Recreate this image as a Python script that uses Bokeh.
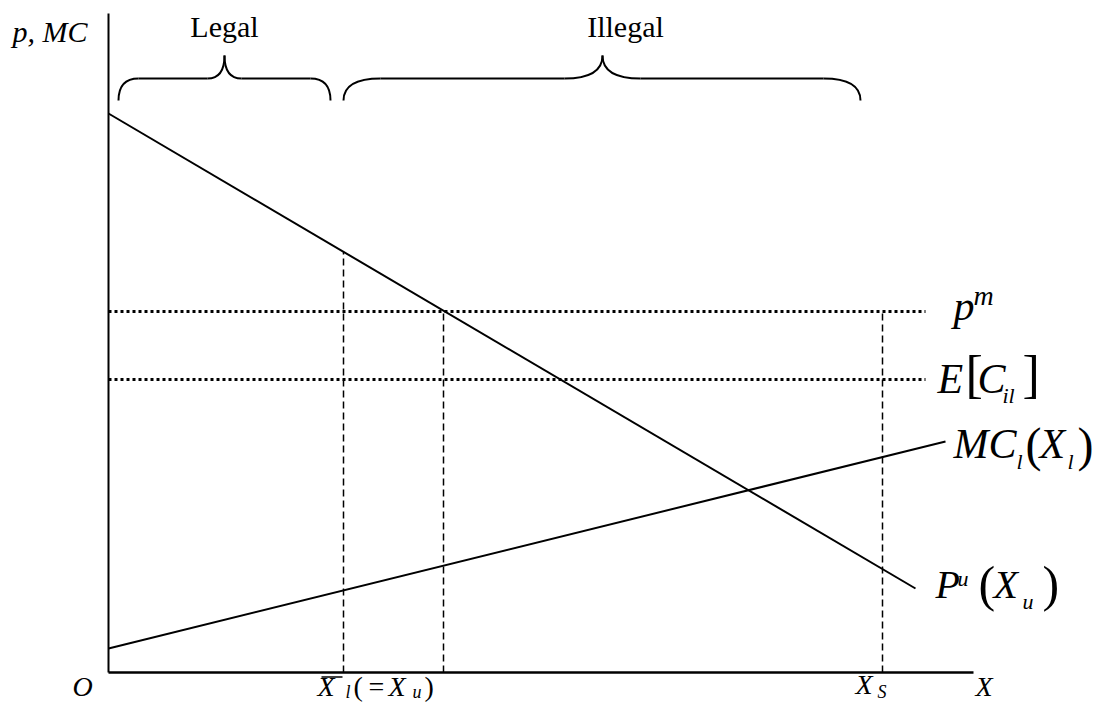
from bokeh.plotting import figure
from bokeh.models import Range1d
from bokeh.core.properties import value
from bokeh.embed import file_html
from bokeh.resources import INLINE
import numpy as np

# ---------------- data (economic model units) ----------------
axis_x_max = 8.65
axis_y_max = 6.59

demand_x = [0.0, 8.07]          # P^u(X_u)
demand_y = [5.59, 0.84]
mc_x = [0.0, 8.37]              # MC_l(X_l)
mc_y = [0.24, 2.31]

p_m = 3.61                      # p^m
e_cil = 2.93                    # E[C_il]
dotted_end = 8.17

x_bar_l = 2.35                  # X̄_l (= X_u)
x_pm = 3.35                     # demand meets p^m
x_s = 7.74                      # X_S

FONT = value("Liberation Serif")

p = figure(width=1097, height=704, output_backend="svg", toolbar_location=None,
           x_range=Range1d(-1.08, 9.89), y_range=Range1d(-0.32, 6.72),
           x_axis_location=None, y_axis_location=None, min_border=0,
           outline_line_color=None, background_fill_color="white",
           border_fill_color="white")
p.grid.visible = False

# axes
p.line([0, 0], [0, axis_y_max], line_color="black", line_width=2)
p.line([0, axis_x_max], [0, 0], line_color="black", line_width=2.5)

# dotted horizontals
for lvl in (p_m, e_cil):
    p.line([0, dotted_end], [lvl, lvl], line_color="black", line_width=3,
           line_dash="3 3", line_cap="butt")

# dashed verticals
y_at_xbar = float(np.interp(x_bar_l, demand_x, demand_y))
p.line([x_bar_l, x_bar_l], [0, y_at_xbar], line_color="black", line_width=1.5, line_dash="7 4")
p.line([x_pm, x_pm], [0, p_m], line_color="black", line_width=1.5, line_dash="7 4")
p.line([x_s, x_s], [0, p_m], line_color="black", line_width=1.5, line_dash="7 4")

# curves
p.line(demand_x, demand_y, line_color="black", line_width=2)
p.line(mc_x, mc_y, line_color="black", line_width=2)

# braces
def brace(x0, x1, xm, y_end, y_h, y_tip, r_end, r_tip):
    p.quadratic(x0=[x0, x1], y0=[y_end, y_end], x1=[x0 + r_end, x1 - r_end], y1=[y_h, y_h],
                cx=[x0, x1], cy=[y_h, y_h], line_color="black", line_width=2)
    p.segment(x0=[x0 + r_end, xm + r_tip], y0=[y_h, y_h], x1=[xm - r_tip, x1 - r_end], y1=[y_h, y_h],
              line_color="black", line_width=2)
    p.quadratic(x0=[xm - r_tip, xm + r_tip], y0=[y_h, y_h], x1=[xm, xm], y1=[y_tip, y_tip],
                cx=[xm, xm], cy=[y_h, y_h], line_color="black", line_width=2)

brace(0.10, 2.22, 1.16, 5.72, 5.94, 6.17, 0.20, 0.17)
brace(2.35, 7.52, 4.94, 5.72, 5.94, 6.17, 0.37, 0.38)

# texts (y given as baseline; renderer places text lower, so compensate)
SHIFT = 0.40
def label(x, y, s, size, italic=True, align="left"):
    p.text(x=[x], y=[y + SHIFT * size / 100.0], text=[s], text_font=FONT,
           text_font_size=f"{size}px",
           text_font_style="italic" if italic else "normal", text_align=align,
           text_baseline="alphabetic", text_color="black")

label(-0.96, 6.29, "p, MC", 30)
label(1.16, 6.34, "Legal", 30, False, "center")
label(5.17, 6.34, "Illegal", 30, False, "center")
label(-0.36, -0.25, "O", 28)

label(2.09, -0.25, "X", 28)
p.segment(x0=[2.13], y0=[-0.045], x1=[2.34], y1=[-0.045], line_color="black", line_width=1.5)
label(2.37, -0.27, "l", 18)
label(2.45, -0.25, "(", 28, False)
label(2.60, -0.25, "=", 28, False)
label(2.80, -0.25, "X", 28)
label(3.04, -0.27, "u", 18)
label(3.16, -0.25, ")", 28, False)

label(7.47, -0.23, "X", 28)
label(7.69, -0.27, "S", 18)
label(8.67, -0.25, "X", 28)

label(8.45, 3.50, "p", 42)
label(8.65, 3.66, "m", 28)

label(8.29, 2.77, "E", 42)
label(8.57, 2.77, "[", 52, False)
label(8.69, 2.77, "C", 42)
label(8.94, 2.68, "il", 22)
label(9.14, 2.77, "]", 52, False)

label(8.45, 2.12, "MC", 42)
label(9.08, 2.02, "l", 22)
label(9.17, 2.09, "(", 48, False)
label(9.31, 2.12, "X", 42)
label(9.59, 2.02, "l", 22)
label(9.69, 2.09, ")", 48, False)

label(8.27, 0.72, "P", 40)
label(8.49, 0.85, "u", 22)
label(8.70, 0.69, "(", 50, False)
label(8.85, 0.72, "X", 40)
label(9.14, 0.62, "u", 22)
label(9.34, 0.69, ")", 50, False)

open("out.html", "w").write(file_html(p, INLINE))
